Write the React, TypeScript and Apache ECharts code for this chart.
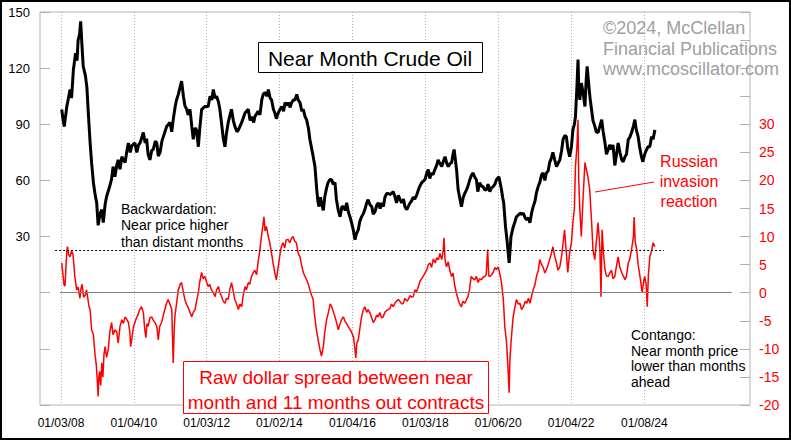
import React, { useEffect, useRef } from "react";
import * as echarts from "echarts";

// x values are decimal years
const xMin = 2007.434;
const xMax = 2026.92;
const tickYears = [2008.01, 2010.01, 2012.01, 2014.0, 2016.01, 2018.01, 2020.01, 2022.01, 2024.02];
const tickLabels = ["01/03/08", "01/04/10", "01/03/12", "01/02/14", "01/04/16", "01/03/18", "01/06/20", "01/04/22", "01/08/24"];

// Near month crude oil price (left axis)
const crudePrice: [number, number][] = [
  [2008.03, 97.9], [2008.07, 92], [2008.10, 88.8], [2008.17, 99.5], [2008.26, 108.6], [2008.30, 104], [2008.35, 119],
  [2008.41, 128], [2008.45, 124], [2008.48, 135], [2008.52, 138], [2008.55, 145], [2008.58, 134], [2008.62, 121],
  [2008.68, 116], [2008.72, 110], [2008.76, 96], [2008.81, 80], [2008.85, 69.5], [2008.90, 58.8],
  [2008.95, 52], [2008.99, 48], [2009.03, 36], [2009.08, 42], [2009.13, 44.4], [2009.17, 37.5],
  [2009.22, 47], [2009.26, 51.3], [2009.35, 57], [2009.40, 61], [2009.44, 67.4], [2009.49, 62],
  [2009.54, 68], [2009.58, 71], [2009.63, 66], [2009.68, 72.7], [2009.77, 69.5], [2009.82, 76], [2009.86, 80],
  [2009.91, 75], [2009.95, 78.5], [2010.04, 80], [2010.09, 75], [2010.14, 79], [2010.18, 80], [2010.27, 85.6],
  [2010.32, 80], [2010.36, 82.3], [2010.40, 74], [2010.45, 71], [2010.50, 76], [2010.54, 76.5],
  [2010.60, 81], [2010.64, 80], [2010.68, 73], [2010.73, 75], [2010.78, 81], [2010.82, 83.4], [2010.91, 88.8],
  [2011.00, 91], [2011.05, 86], [2011.09, 92.5], [2011.14, 99], [2011.18, 103], [2011.23, 106], [2011.28, 110],
  [2011.32, 113], [2011.37, 105], [2011.41, 100], [2011.46, 98], [2011.50, 95], [2011.55, 98], [2011.60, 89],
  [2011.64, 82], [2011.69, 88], [2011.73, 87], [2011.78, 78], [2011.82, 88], [2011.87, 98], [2011.96, 99.5],
  [2012.05, 99.5], [2012.10, 105], [2012.15, 103], [2012.19, 108.6], [2012.24, 104], [2012.28, 105], [2012.33, 102],
  [2012.37, 98], [2012.42, 90], [2012.46, 83], [2012.51, 78], [2012.55, 85], [2012.60, 91], [2012.65, 95],
  [2012.69, 98], [2012.74, 92], [2012.78, 89], [2012.84, 86], [2012.88, 87], [2012.97, 91], [2013.06, 96],
  [2013.15, 98], [2013.20, 92], [2013.24, 94], [2013.30, 91], [2013.33, 94], [2013.42, 97], [2013.47, 95],
  [2013.52, 103], [2013.56, 106], [2013.61, 107], [2013.66, 105], [2013.70, 108.6], [2013.75, 104], [2013.79, 103],
  [2013.84, 98], [2013.88, 96], [2013.92, 93], [2013.97, 96], [2014.02, 98], [2014.07, 99.5], [2014.12, 97],
  [2014.16, 101.6], [2014.21, 100], [2014.25, 101.6], [2014.30, 99], [2014.34, 101.6], [2014.39, 103],
  [2014.43, 103], [2014.48, 106], [2014.52, 103], [2014.57, 101.6], [2014.62, 97], [2014.66, 98], [2014.71, 94],
  [2014.75, 92.5], [2014.80, 88], [2014.84, 82], [2014.91, 75], [2014.98, 67.4], [2015.03, 55], [2015.06, 49],
  [2015.09, 46], [2015.13, 51], [2015.16, 48], [2015.21, 44], [2015.25, 51.3], [2015.30, 56], [2015.34, 58.8],
  [2015.39, 60.5], [2015.44, 60.4], [2015.48, 58], [2015.53, 58.8], [2015.57, 49.7], [2015.62, 44], [2015.67, 40.6],
  [2015.72, 46], [2015.76, 46], [2015.81, 44], [2015.85, 48], [2015.90, 43], [2015.94, 40.6], [2015.99, 37],
  [2016.03, 33.7], [2016.08, 28.3], [2016.11, 31], [2016.17, 33.7], [2016.21, 38], [2016.26, 40.6], [2016.30, 42],
  [2016.35, 44.4], [2016.40, 48], [2016.44, 49.7], [2016.49, 47], [2016.54, 46], [2016.58, 42], [2016.63, 43.4],
  [2016.68, 47], [2016.72, 48], [2016.77, 45], [2016.81, 48], [2016.86, 46], [2016.90, 51], [2016.95, 53],
  [2016.99, 53], [2017.04, 52.5], [2017.08, 53], [2017.13, 54], [2017.18, 51], [2017.22, 48], [2017.27, 52],
  [2017.31, 50], [2017.36, 48], [2017.41, 50], [2017.45, 46], [2017.50, 44.4], [2017.54, 46], [2017.59, 48],
  [2017.63, 49], [2017.68, 51], [2017.72, 50], [2017.77, 52], [2017.82, 55], [2017.86, 57], [2017.91, 58.8],
  [2018.00, 60.4], [2018.05, 64], [2018.09, 65.8], [2018.13, 61], [2018.18, 64], [2018.22, 63], [2018.27, 65.8],
  [2018.32, 68], [2018.36, 71], [2018.41, 69], [2018.46, 67.4], [2018.50, 70], [2018.55, 72.7], [2018.60, 69],
  [2018.64, 67.4], [2018.69, 69], [2018.73, 69.5], [2018.77, 74], [2018.80, 76.5], [2018.84, 70], [2018.87, 65],
  [2018.91, 55], [2018.96, 50], [2019.00, 46], [2019.05, 51], [2019.09, 53], [2019.14, 55], [2019.18, 57],
  [2019.23, 60.4], [2019.28, 63], [2019.32, 64], [2019.36, 62], [2019.41, 60.4], [2019.45, 54], [2019.50, 58.8],
  [2019.55, 57], [2019.59, 56.7], [2019.64, 55], [2019.69, 55], [2019.73, 58], [2019.78, 54], [2019.82, 56],
  [2019.87, 56.7], [2019.92, 58], [2019.96, 60.4], [2020.03, 62], [2020.07, 58], [2020.10, 55], [2020.13, 51],
  [2020.16, 48], [2020.21, 35.3], [2020.25, 28.3], [2020.28, 22], [2020.31, 16], [2020.36, 30], [2020.42, 35],
  [2020.47, 38], [2020.51, 40.6], [2020.56, 41.5], [2020.61, 42.5], [2020.66, 42], [2020.70, 42.5], [2020.75, 40],
  [2020.79, 39], [2020.84, 40], [2020.88, 37.4], [2020.93, 43], [2020.97, 46], [2021.02, 49], [2021.06, 53.5],
  [2021.11, 57], [2021.15, 58.8], [2021.20, 63], [2021.24, 64], [2021.29, 60], [2021.33, 64], [2021.38, 65],
  [2021.42, 69.5], [2021.47, 72], [2021.51, 75], [2021.56, 71], [2021.61, 67.4], [2021.65, 69], [2021.70, 71],
  [2021.75, 76], [2021.79, 82], [2021.84, 84], [2021.88, 83.4], [2021.92, 77], [2021.97, 72.7], [2022.02, 78],
  [2022.06, 87.2], [2022.10, 90], [2022.13, 94], [2022.17, 110], [2022.20, 124.6], [2022.22, 110], [2022.25, 103],
  [2022.29, 112], [2022.34, 107], [2022.39, 99.5], [2022.42, 112], [2022.45, 121], [2022.50, 110], [2022.53, 104],
  [2022.57, 98], [2022.61, 92], [2022.66, 89], [2022.70, 86], [2022.75, 85.6], [2022.80, 89], [2022.85, 92.5],
  [2022.89, 86], [2022.94, 80], [2022.98, 74], [2023.03, 76.5], [2023.07, 79], [2023.12, 76.5], [2023.16, 79],
  [2023.21, 68], [2023.25, 73], [2023.30, 80], [2023.35, 75], [2023.40, 71], [2023.44, 70], [2023.49, 72.7],
  [2023.53, 74], [2023.58, 82], [2023.62, 83], [2023.67, 85.6], [2023.72, 89], [2023.76, 92.5], [2023.80, 87],
  [2023.85, 83.4], [2023.89, 78], [2023.94, 72.7], [2023.98, 70], [2024.03, 74], [2024.07, 76], [2024.12, 78],
  [2024.17, 78], [2024.22, 83.4], [2024.26, 82], [2024.31, 87]
];

// Spread between near month and 11 months out (right axis, dollars)
const spread: [number, number][] = [
  [2008.03, 5.3], [2008.06, 3.5], [2008.09, 1.5], [2008.12, 1.2], [2008.15, 5], [2008.17, 7.5], [2008.19, 8.2],
  [2008.22, 6.8], [2008.26, 6.4], [2008.30, 7.5], [2008.34, 6.8], [2008.39, 2.9], [2008.44, 0.5], [2008.48, 1.0],
  [2008.53, -1], [2008.56, 0.8], [2008.59, 1.5], [2008.63, -0.8], [2008.67, -0.5], [2008.71, 0.5], [2008.75, -1.2],
  [2008.78, -2.5], [2008.81, -3], [2008.85, -6.6], [2008.90, -7.5], [2008.94, -10.7], [2008.98, -13],
  [2009.01, -16], [2009.03, -18.5], [2009.05, -15], [2009.07, -14], [2009.10, -16.5], [2009.13, -12.5],
  [2009.16, -15], [2009.19, -11], [2009.22, -9.6], [2009.26, -11.5], [2009.31, -10], [2009.35, -7], [2009.40, -5.3],
  [2009.44, -7.5], [2009.49, -6.6], [2009.54, -7], [2009.58, -9], [2009.63, -6], [2009.68, -4.8], [2009.72, -5.5],
  [2009.77, -4.3], [2009.82, -4.8], [2009.86, -5.3], [2009.90, -7], [2009.92, -9.6], [2009.95, -8.4],
  [2010.00, -6], [2010.04, -5.3], [2010.08, -4.5], [2010.12, -4], [2010.17, -3], [2010.22, -2.5], [2010.27, -3.5],
  [2010.31, -6.6], [2010.34, -8], [2010.37, -5.5], [2010.40, -6], [2010.45, -4.5], [2010.50, -4.3], [2010.55, -5],
  [2010.59, -5.3], [2010.64, -6], [2010.68, -8.4], [2010.72, -6], [2010.77, -5.3], [2010.82, -4], [2010.86, -3],
  [2010.90, -2], [2010.95, -1.2], [2011.00, -2], [2011.05, -3], [2011.09, -12.5], [2011.12, -6], [2011.14, -4],
  [2011.19, -1.5], [2011.23, 0.5], [2011.28, 1.5], [2011.32, 1.8], [2011.37, 0], [2011.41, -1.2], [2011.45, -2],
  [2011.49, -2.5], [2011.55, -3.5], [2011.60, -4.3], [2011.64, -3.5], [2011.69, -3], [2011.73, -1.5],
  [2011.78, 0], [2011.82, 2], [2011.87, 3.6], [2011.91, 2.5], [2011.96, 2.9], [2012.00, 2], [2012.05, 1.1],
  [2012.09, 1.5], [2012.14, 0.5], [2012.19, 0], [2012.24, -0.7], [2012.28, 0.5], [2012.33, 1.1], [2012.37, 0],
  [2012.42, -0.7], [2012.46, -1.5], [2012.51, -1.9], [2012.55, -1], [2012.60, -1.2], [2012.64, 0.5],
  [2012.69, 1.8], [2012.73, 0.5], [2012.78, -1.2], [2012.83, -2], [2012.88, -3], [2012.92, -2], [2012.97, -2.5],
  [2013.01, -0.5], [2013.06, 1.1], [2013.10, 0.5], [2013.15, 1.8], [2013.19, 1.5], [2013.24, 2.9], [2013.28, 3.5],
  [2013.33, 4], [2013.38, 3.2], [2013.42, 5.5], [2013.47, 7.7], [2013.51, 10], [2013.56, 12.5], [2013.58, 13.5],
  [2013.61, 11], [2013.65, 11.8], [2013.70, 10], [2013.74, 8.9], [2013.79, 7], [2013.83, 5.3], [2013.88, 3.5],
  [2013.92, 2.3], [2013.96, 4], [2014.01, 6.4], [2014.05, 8], [2014.10, 8.9], [2014.15, 8], [2014.19, 9.4],
  [2014.24, 9.5], [2014.29, 8.9], [2014.33, 9.6], [2014.38, 10], [2014.42, 9.2], [2014.47, 8.9], [2014.52, 7],
  [2014.57, 6.4], [2014.61, 5], [2014.66, 3.6], [2014.70, 3], [2014.75, 2.3], [2014.80, 1.5], [2014.84, 0.5],
  [2014.89, -0.5], [2014.93, -1.2], [2014.97, -4], [2015.02, -6.6], [2015.07, -8.5], [2015.12, -10.2],
  [2015.16, -11.3], [2015.21, -9.6], [2015.25, -7], [2015.30, -4.8], [2015.35, -3.5], [2015.40, -2], [2015.44, -2.5],
  [2015.49, -3.5], [2015.53, -4.3], [2015.58, -5.5], [2015.62, -6.6], [2015.67, -5.5], [2015.71, -4.8],
  [2015.76, -4.3], [2015.80, -5], [2015.85, -5.5], [2015.89, -6], [2015.94, -6.5], [2015.99, -7.1],
  [2016.04, -8], [2016.08, -10.2], [2016.10, -11.6], [2016.13, -9], [2016.17, -8.4], [2016.22, -6], [2016.26, -4.3],
  [2016.31, -3], [2016.35, -2.5], [2016.40, -3.5], [2016.44, -3], [2016.49, -3.6], [2016.54, -4.5], [2016.58, -5.3],
  [2016.63, -4.8], [2016.67, -4], [2016.72, -4.3], [2016.76, -3.5], [2016.81, -4.5], [2016.85, -4.3],
  [2016.90, -3.5], [2016.94, -3.2], [2016.99, -3], [2017.04, -2.8], [2017.08, -2], [2017.13, -2.5], [2017.18, -1.8],
  [2017.22, -1.5], [2017.27, -1.2], [2017.31, -1.5], [2017.36, -2], [2017.40, -1.9], [2017.45, -1], [2017.50, -1.5],
  [2017.54, -1.2], [2017.59, -0.5], [2017.63, -0.8], [2017.68, -0.7], [2017.72, 0.5], [2017.77, 0.2],
  [2017.82, 1.1], [2017.86, 2], [2017.91, 2.5], [2017.95, 2.9], [2018.00, 3.5], [2018.05, 4.1], [2018.09, 5],
  [2018.14, 5.3], [2018.18, 4.5], [2018.23, 6], [2018.28, 5.3], [2018.32, 6.2], [2018.37, 5.9], [2018.41, 7],
  [2018.46, 5.9], [2018.50, 7.5], [2018.52, 9.8], [2018.55, 6], [2018.59, 4.6], [2018.64, 5.5], [2018.68, 4],
  [2018.73, 2.9], [2018.77, 3.5], [2018.82, 1.1], [2018.86, 0], [2018.91, -1.2], [2018.95, -2], [2019.00, -2.5],
  [2019.04, -1.5], [2019.09, -1.9], [2019.14, -1.2], [2019.18, -0.7], [2019.22, 0.5], [2019.27, 2.9],
  [2019.32, 2.5], [2019.36, 2.3], [2019.41, 2.9], [2019.46, 1.8], [2019.50, 2.5], [2019.55, 2.3], [2019.60, 2.8],
  [2019.64, 2.9], [2019.68, 3.2], [2019.72, 7.7], [2019.75, 3], [2019.78, 2.9], [2019.83, 3.2], [2019.87, 3.6],
  [2019.92, 4.5], [2019.96, 4.1], [2020.01, 4.6], [2020.05, 3.5], [2020.10, 1.8], [2020.15, -1.2], [2020.19, -6],
  [2020.24, -9], [2020.28, -13.7], [2020.31, -17.8], [2020.33, -12], [2020.36, -9], [2020.39, -6.5],
  [2020.42, -4.3], [2020.47, -2.5], [2020.51, -1.2], [2020.56, -2], [2020.61, -1.9], [2020.65, -3], [2020.70, -2.5],
  [2020.75, -1.5], [2020.79, -1.9], [2020.84, -1], [2020.88, -1.9], [2020.93, -0.5], [2020.97, 0.5],
  [2021.02, 1.5], [2021.06, 2.9], [2021.11, 4], [2021.15, 5.9], [2021.20, 5], [2021.24, 4.6], [2021.29, 3.5],
  [2021.33, 4.1], [2021.38, 5], [2021.42, 5.9], [2021.47, 7], [2021.51, 8.2], [2021.56, 6.5], [2021.61, 5.3],
  [2021.65, 4], [2021.70, 4.6], [2021.75, 6.5], [2021.79, 8.9], [2021.83, 11.2], [2021.88, 7], [2021.92, 3.6],
  [2021.97, 7.1], [2022.02, 9], [2022.06, 12.5], [2022.10, 15], [2022.13, 22.5], [2022.17, 26], [2022.20, 30.8],
  [2022.22, 20], [2022.25, 14.8], [2022.29, 10], [2022.34, 17.1], [2022.39, 23.2], [2022.43, 21.9],
  [2022.47, 20.7], [2022.52, 18.4], [2022.57, 13], [2022.61, 7.7], [2022.66, 5.9], [2022.70, 8.9], [2022.75, 12.5],
  [2022.80, 8], [2022.83, -0.7], [2022.86, 11.2], [2022.90, 7], [2022.94, 4.1], [2022.98, 3], [2023.03, 2.9],
  [2023.07, 3.5], [2023.12, 4], [2023.16, 2.5], [2023.21, 2.9], [2023.25, 4.5], [2023.30, 6.4], [2023.35, 4.5],
  [2023.40, 3.6], [2023.44, 3], [2023.49, 2.3], [2023.53, 3], [2023.58, 5.3], [2023.62, 6], [2023.67, 7.7],
  [2023.72, 10], [2023.74, 13.5], [2023.77, 9], [2023.81, 7.7], [2023.85, 5], [2023.90, 2.9], [2023.93, 1.5],
  [2023.96, 0], [2024.00, 2], [2024.03, 2.9], [2024.07, 1.5], [2024.10, -2.5], [2024.13, 3], [2024.17, 6.4],
  [2024.22, 7.5], [2024.26, 8.9], [2024.31, 8.2]
];

const FONT = "'Liberation Sans', Arial, sans-serif";

export default function App() {
  const ref = useRef<HTMLDivElement>(null);

  useEffect(() => {
    document.body.style.margin = "0";
    const chart = echarts.init(ref.current!, null, { renderer: "svg" });
    const option: any = {
      animation: false,
      backgroundColor: "#ffffff",
      grid: {
        left: 40,
        right: 41,
        top: 12,
        bottom: 35,
        show: true,
        borderColor: "#b4b4b4",
        borderWidth: 1,
        backgroundColor: "transparent",
      },
      xAxis: {
        type: "value",
        min: xMin,
        max: xMax,
        axisLine: { show: false },
        axisTick: { show: false, customValues: tickYears },
        axisLabel: {
          customValues: tickYears,
          formatter: (v: number) => {
            const i = tickYears.findIndex((t) => Math.abs(t - v) < 1e-6);
            return i >= 0 ? tickLabels[i] : "";
          },
          color: "#000",
          fontSize: 12,
          fontFamily: FONT,
          margin: 12,
        },
        splitLine: {
          show: true,
          lineStyle: { color: "#b0b0b0", type: [1, 2], width: 1 },
        },
      },
      yAxis: [
        {
          type: "value",
          min: -60,
          max: 150,
          interval: 30,
          position: "left",
          axisLine: { show: false },
          axisTick: { show: true, inside: true, length: 10, lineStyle: { color: "#b0b0b0" } },
          axisLabel: {
            formatter: (v: number) => (v >= 30 ? String(v) : ""),
            color: "#000",
            fontSize: 13,
            fontFamily: FONT,
            margin: 10,
          },
          splitLine: { show: false },
        },
        {
          type: "value",
          min: -20,
          max: 50,
          interval: 5,
          position: "right",
          axisLine: { show: false },
          axisTick: { show: true, inside: true, length: 10, lineStyle: { color: "#b0b0b0" } },
          axisLabel: {
            formatter: (v: number) => (v <= 30 ? String(v) : ""),
            color: "#ff0000",
            fontSize: 14,
            fontFamily: FONT,
            margin: 9,
          },
          splitLine: { show: false },
        },
      ],
      series: [
        {
          name: "Spread",
          type: "line",
          yAxisIndex: 1,
          data: spread,
          showSymbol: false,
          symbol: "none",
          lineStyle: { color: "#ff0000", width: 1.5 },
          z: 3,
          silent: true,
          markLine: {
            silent: true,
            symbol: "none",
            label: { show: false },
            data: [
              [
                { coord: [2007.98, 0], lineStyle: { color: "#808080", type: "solid", width: 1 } },
                { coord: [2026.42, 0] },
              ],
              [
                { coord: [2007.85, 7.5], lineStyle: { color: "#000000", type: [2, 2], width: 1 } },
                { coord: [2024.56, 7.5] },
              ],
            ],
          },
        },
        {
          name: "Crude",
          type: "line",
          yAxisIndex: 0,
          data: crudePrice,
          showSymbol: false,
          symbol: "none",
          lineStyle: { color: "#000000", width: 3 },
          z: 2,
          silent: true,
        },
      ],
      graphic: [
        {
          type: "rect",
          z: 100,
          shape: { x: 258.5, y: 42.5, width: 224, height: 30 },
          style: { fill: "#ffffff", stroke: "#000000", lineWidth: 1 },
        },
        {
          type: "text",
          z: 101,
          x: 370,
          y: 58,
          style: {
            text: "Near Month Crude Oil",
            font: `21px ${FONT}`,
            fill: "#000",
            textAlign: "center",
            textVerticalAlign: "middle",
          },
        },
        {
          type: "text",
          z: 101,
          x: 603,
          y: 28,
          style: { text: "©2024, McClellan", font: `18px ${FONT}`, fill: "#a0a0a0", textAlign: "left", textVerticalAlign: "middle" },
        },
        {
          type: "text",
          z: 101,
          x: 603,
          y: 48.5,
          style: { text: "Financial Publications", font: `18px ${FONT}`, fill: "#a0a0a0", textAlign: "left", textVerticalAlign: "middle" },
        },
        {
          type: "text",
          z: 101,
          x: 603,
          y: 69,
          style: { text: "www.mcoscillator.com", font: `18px ${FONT}`, fill: "#a0a0a0", textAlign: "left", textVerticalAlign: "middle" },
        },
        {
          type: "text",
          z: 101,
          x: 121,
          y: 225,
          style: {
            text: "Backwardation:\nNear price higher\nthan distant months",
            font: `14px ${FONT}`,
            lineHeight: 16.5,
            fill: "#000",
            textAlign: "left",
            textVerticalAlign: "middle",
          },
        },
        {
          type: "text",
          z: 101,
          x: 631,
          y: 358.5,
          style: {
            text: "Contango:\nNear month price\nlower than months\nahead",
            font: `14px ${FONT}`,
            lineHeight: 15.8,
            fill: "#000",
            textAlign: "left",
            textVerticalAlign: "middle",
          },
        },
        {
          type: "text",
          z: 101,
          x: 689,
          y: 181,
          style: {
            text: "Russian\ninvasion\nreaction",
            font: `16px ${FONT}`,
            lineHeight: 20,
            fill: "#ff0000",
            textAlign: "center",
            textVerticalAlign: "middle",
          },
        },
        {
          type: "line",
          z: 101,
          shape: { x1: 595, y1: 192, x2: 654, y2: 182 },
          style: { stroke: "#ff0000", lineWidth: 1 },
        },
        {
          type: "rect",
          z: 100,
          shape: { x: 183.5, y: 361.5, width: 305, height: 52 },
          style: { fill: "#ffffff", stroke: "#ff0000", lineWidth: 1 },
        },
        {
          type: "text",
          z: 101,
          x: 336,
          y: 389.5,
          style: {
            text: "Raw dollar spread between near\nmonth and 11 months out contracts",
            font: `19px ${FONT}`,
            lineHeight: 25,
            fill: "#ff0000",
            textAlign: "center",
            textVerticalAlign: "middle",
          },
        },
        {
          type: "rect",
          z: 102,
          shape: { x: 1, y: 1, width: 789, height: 438 },
          style: { fill: "none", stroke: "#000000", lineWidth: 2 },
        },
      ],
    };
    chart.setOption(option);
    return () => chart.dispose();
  }, []);

  return (
    <div
      ref={ref}
      style={{ position: "absolute", left: 0, top: 0, width: 791, height: 440 }}
    />
  );
}
